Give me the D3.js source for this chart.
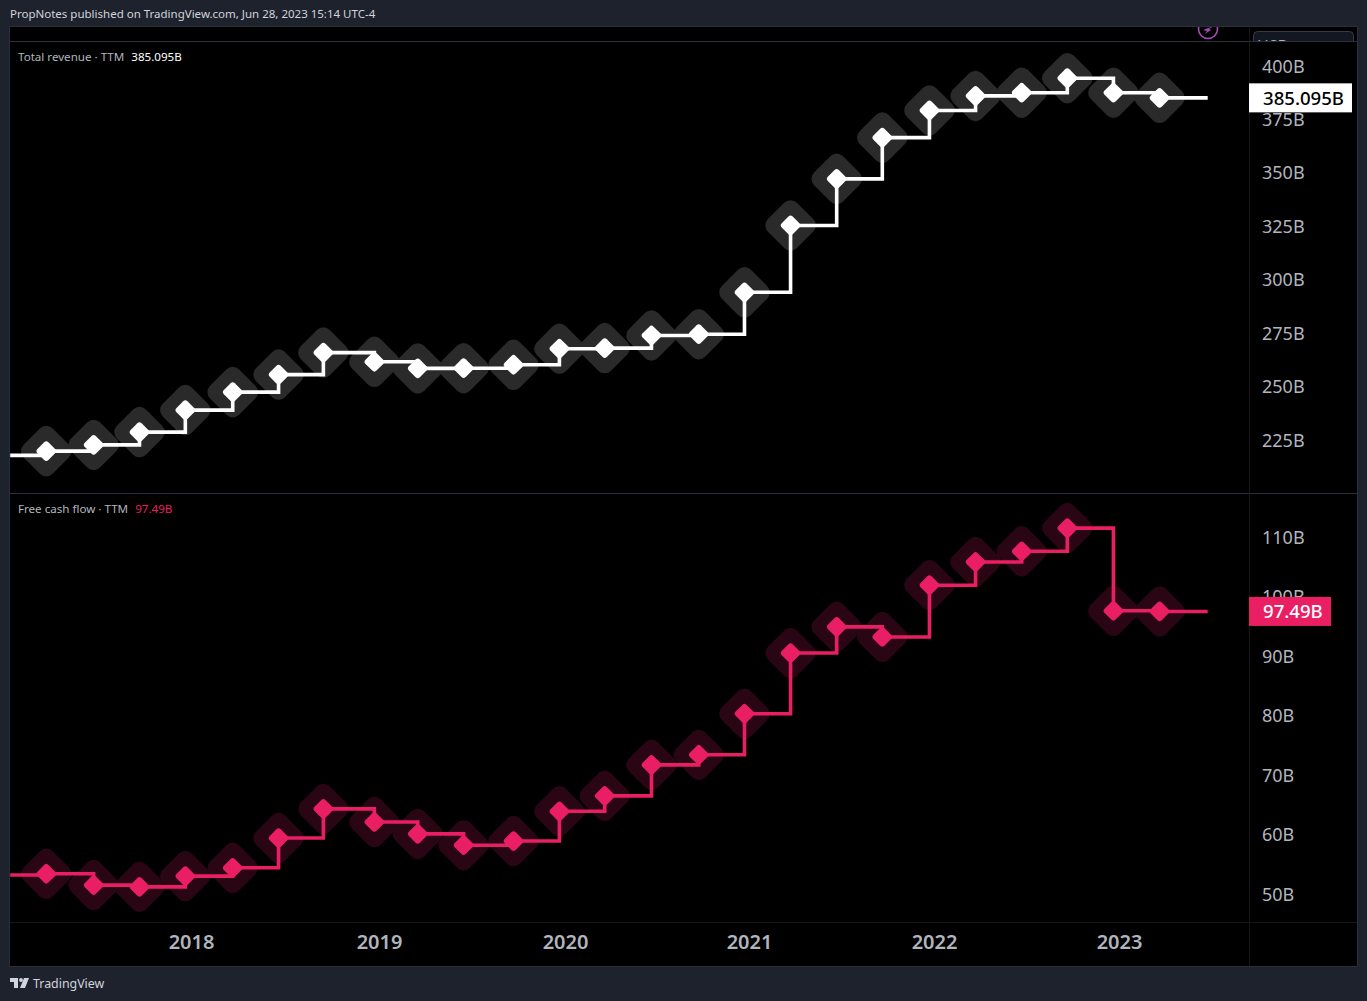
<!DOCTYPE html>
<html>
<head>
<meta charset="utf-8">
<script src="https://cdnjs.cloudflare.com/ajax/libs/d3/7.8.5/d3.min.js"></script>
<style>
    html, body { margin: 0; padding: 0; background: #1e222d; }
    svg { display: block; font-family: "Noto Sans", sans-serif; }
</style>
</head>
<body>
<svg id="chart" width="1367" height="1001"></svg>
<script>
// report dates, first and last entries only extend the line
var dates = ["2017-01-15", "2017-03-26", "2017-06-26", "2017-09-23", "2017-12-21",
             "2018-03-23", "2018-06-20", "2018-09-15", "2018-12-23",
             "2019-03-18", "2019-06-16", "2019-09-22", "2019-12-21",
             "2020-03-20", "2020-06-21", "2020-09-23", "2020-12-23",
             "2021-03-24", "2021-06-23", "2021-09-21", "2021-12-23",
             "2022-03-24", "2022-06-23", "2022-09-21", "2022-12-21",
             "2023-03-22", "2023-06-25"];
var revenue = [217.8, 219.8, 222.7, 228.7, 239.0,
               247.4, 255.6, 265.9, 261.6,
               258.5, 258.6, 260.2, 267.7,
               268.0, 273.9, 274.5, 294.1,
               325.4, 347.2, 366.5, 379.2,
               386.0, 387.5, 394.3, 387.5,
               385.095, 385.095];
var fcf = [53.2, 53.4, 51.5, 51.2, 53.0,
           54.4, 59.4, 64.3, 62.1,
           60.1, 58.2, 58.9, 63.9,
           66.5, 71.7, 73.4, 80.3,
           90.5, 94.9, 93.2, 101.9,
           105.8, 107.6, 111.5, 97.6,
           97.49, 97.49];
var years = [2018, 2019, 2020, 2021, 2022, 2023];
var revenue_ticks = [225, 250, 275, 300, 325, 350, 375, 400];
var fcf_ticks = [50, 60, 70, 80, 90, 100, 110];

var FRAME = "#2a2e39", FAINT = "#161616", AXIS_TEXT = "#b2b5be";

var svg = d3.select("#chart");
var parse = d3.utcParse("%Y-%m-%d");
var time_points = dates.map(function (d) { return parse(d); });

// tradingview's time axis is not quite even, so each year gets its own piece
var x = d3.scaleUtc()
          .domain(years.map(function (y) { return new Date(Date.UTC(y, 0, 1)); }))
          .range([191, 379, 565, 749, 934, 1119]);

// frame
svg.append("rect")
   .attr("x", 9.5).attr("y", 26.5).attr("width", 1348).attr("height", 940)
   .attr("fill", "#000").attr("stroke", FRAME);

// clips for the panes and the top strip
var defs = svg.append("defs");
function add_clip(id, x0, y0, w, h) {
    defs.append("clipPath").attr("id", id).append("rect")
        .attr("x", x0).attr("y", y0).attr("width", w).attr("height", h);
}
add_clip("clip-top", 10, 42, 1239, 451);
add_clip("clip-bottom", 10, 494, 1239, 428);
add_clip("clip-strip", 10, 27, 1347, 14);

// what is left of the hidden toolbar above the first pane
var strip = svg.append("g").attr("clip-path", "url(#clip-strip)");
strip.append("circle")
     .attr("cx", 1208).attr("cy", 29).attr("r", 9.5)
     .attr("fill", "none").attr("stroke", "#ab47bc").attr("stroke-width", 1.6);
strip.append("path")
     .attr("d", "M1203 30 L1214 26 L1209 29 L1211 30 L1205 34 L1207 31 Z")
     .attr("fill", "#ab47bc");
strip.append("rect")
     .attr("x", 1253.5).attr("y", 31.5).attr("width", 100).attr("height", 26).attr("rx", 4)
     .attr("fill", "#131722").attr("stroke", "#363a45");
strip.append("text")
     .attr("x", 1257).attr("y", 52)
     .attr("font-size", 16).attr("fill", AXIS_TEXT)
     .text("USD");

// lines between the areas
function sep(x1, y1, x2, y2, color) {
    svg.append("line")
       .attr("x1", x1).attr("y1", y1).attr("x2", x2).attr("y2", y2)
       .attr("stroke", color).attr("shape-rendering", "crispEdges");
}
sep(10, 41.5, 1357, 41.5, FRAME);
sep(10, 493.5, 1357, 493.5, FRAME);
sep(10, 922.5, 1357, 922.5, FAINT);
sep(1249.5, 27, 1249.5, 41, FAINT);
sep(1249.5, 42, 1249.5, 966, FAINT);

function make_pane(opt) {
    var y = d3.scaleLinear().domain(opt.domain).range(opt.range);
    var rows = time_points.map(function (t, i) { return { t: t, v: opt.values[i] }; });
    var marks = rows.slice(1, rows.length - 1);

    var g = svg.append("g").attr("clip-path", "url(#" + opt.clip + ")");

    g.selectAll("rect.halo").data(marks).enter().append("rect")
     .attr("class", "halo")
     .attr("x", -20.5).attr("y", -20.5).attr("width", 41).attr("height", 41).attr("rx", 9)
     .attr("fill", opt.halo)
     .attr("transform", function (d) { return "translate(" + x(d.t) + "," + y(d.v) + ") rotate(45)"; });

    var line = d3.line()
                 .x(function (d) { return x(d.t); })
                 .y(function (d) { return y(d.v); })
                 .curve(d3.curveStepAfter);
    g.append("path")
     .attr("d", line(rows))
     .attr("fill", "none").attr("stroke", opt.color).attr("stroke-width", 3.6);

    g.selectAll("rect.dot").data(marks).enter().append("rect")
     .attr("class", "dot")
     .attr("x", -7.75).attr("y", -7.75).attr("width", 15.5).attr("height", 15.5).attr("rx", 3)
     .attr("fill", opt.color)
     .attr("transform", function (d) { return "translate(" + x(d.t) + "," + y(d.v) + ") rotate(45)"; });

    // price axis
    var ax = svg.append("g")
                .attr("transform", "translate(1249,0)")
                .call(d3.axisRight(y)
                        .tickValues(opt.ticks)
                        .tickSize(0)
                        .tickPadding(13)
                        .tickFormat(function (d) { return d + "B"; }));
    ax.select(".domain").remove();
    ax.selectAll("text")
      .attr("font-family", "Noto Sans")
      .attr("dy", 6)
      .attr("font-size", 18).attr("fill", AXIS_TEXT);

    // last value tag
    var last = opt.values[opt.values.length - 1];
    var tag_y = y(last);
    svg.append("rect")
       .attr("x", 1249).attr("y", tag_y - 14.5).attr("width", opt.tag_w).attr("height", 29)
       .attr("fill", opt.color);
    svg.append("text")
       .attr("x", 1263).attr("y", tag_y + 7)
       .attr("font-size", 18.6).attr("font-weight", 500).attr("fill", opt.tag_text)
       .text(last + "B");

    // legend
    var legend = svg.append("text")
                    .attr("x", 18).attr("y", opt.legend_y)
                    .attr("font-size", 11.6).attr("fill", AXIS_TEXT);
    legend.append("tspan").text(opt.title + " \u00b7 TTM");
    legend.append("tspan").attr("dx", 7).attr("fill", opt.color).text(last + "B");
}

make_pane({
    values: revenue, domain: [225, 400], range: [440, 66], ticks: revenue_ticks,
    clip: "clip-top", color: "#ffffff", halo: "#2a2a2a", tag_text: "#000", tag_w: 103,
    title: "Total revenue", legend_y: 61
});
make_pane({
    values: fcf, domain: [50, 110], range: [894, 537], ticks: fcf_ticks,
    clip: "clip-bottom", color: "#e91e63", halo: "#2a0513", tag_text: "#fff", tag_w: 82,
    title: "Free cash flow", legend_y: 513
});

// time axis
var tx = svg.append("g")
            .attr("transform", "translate(0,922)")
            .call(d3.axisBottom(x)
                    .tickValues(x.domain())
                    .tickSize(0)
                    .tickFormat(d3.utcFormat("%Y")));
tx.select(".domain").remove();
tx.selectAll("text")
  .attr("font-family", "Noto Sans")
  .attr("y", 27).attr("dy", 0)
  .attr("font-size", 20).attr("font-weight", 600).attr("fill", AXIS_TEXT);

// header and footer
svg.append("text")
   .attr("x", 10).attr("y", 18)
   .attr("font-size", 11.5).attr("fill", "#d1d4dc")
   .text("PropNotes published on TradingView.com, Jun 28, 2023 15:14 UTC-4");
svg.append("text")
   .attr("x", 33).attr("y", 988)
   .attr("font-size", 12.4).attr("fill", "#d1d4dc")
   .text("TradingView");

// small logo
var logo = svg.append("g").attr("fill", "#d1d4dc");
logo.append("path").attr("d", "M10 978 H18 V988 H14 V982 H10 Z");
logo.append("circle").attr("cx", 21).attr("cy", 980).attr("r", 1.9);
logo.append("path").attr("d", "M24 978 H29 L25 988 H20 Z");
</script>
</body>
</html>
